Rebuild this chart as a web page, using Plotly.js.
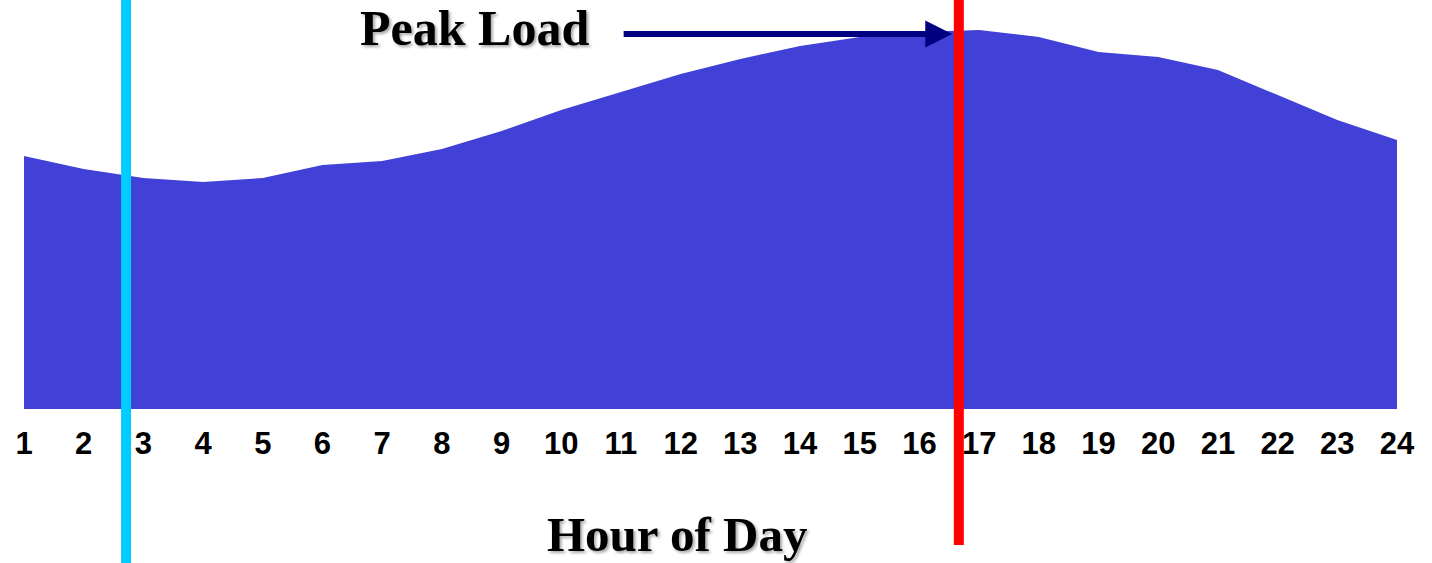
<!DOCTYPE html>
<html>
<head>
<meta charset="utf-8">
<script src="https://cdn.plot.ly/plotly-3.0.1.min.js"></script>
<style>html,body{margin:0;padding:0;background:#fff;}#chart{width:1432px;height:563px;}</style>
</head>
<body>
<div id="chart"></div>
<script>
// Hours of the day
const hours = [1,2,3,4,5,6,7,8,9,10,11,12,13,14,15,16,17,18,19,20,21,22,23,24];
// Relative load (arbitrary units)
const load = [253,240,231,227,231,244,248,260,278,299,317,335,350,363,372,377,379,372,357,352,339,314,289,269];
const tickLabels = hours.map(String);
// Marker hours for vertical lines
const minLoadMarker = 2.71;
const peakLoadMarker = 16.66;
const arrowStartHour = 11.02;
const arrowLevel = 375;

const trace = {
  x: hours, y: load, type: 'scatter', mode: 'lines',
  fill: 'tozeroy', fillcolor: '#4141D7',
  line: {width: 0, color: '#4141D7', shape: 'linear'},
  hoverinfo: 'skip'
};

const layout = {
  width: 1432, height: 563,
  margin: {l: 24, r: 35, t: 0, b: 154},
  paper_bgcolor: '#fff', plot_bgcolor: '#fff',
  showlegend: false,
  xaxis: {
    range: [1, 24], tickvals: hours, ticktext: tickLabels,
    showgrid: false, zeroline: false, showline: false,
    ticks: 'outside', ticklen: 7, tickcolor: 'rgba(0,0,0,0)',
    tickfont: {family: 'Liberation Sans, Arial, sans-serif', size: 31, color: '#000', weight: 'bold'}
  },
  yaxis: {range: [0, 409], visible: false, showgrid: false, zeroline: false},
  shapes: [
    {type: 'line', xref: 'x', yref: 'paper', x0: minLoadMarker, x1: minLoadMarker, y0: -154/409, y1: 1.01,
     line: {color: '#00CCFF', width: 10}},
    {type: 'line', xref: 'x', yref: 'paper', x0: peakLoadMarker, x1: peakLoadMarker, y0: -136/409, y1: 1.01,
     line: {color: '#FF0000', width: 10}}
  ],
  annotations: [
    {x: 16.55, y: arrowLevel, xref: 'x', yref: 'y', axref: 'x', ayref: 'y', ax: arrowStartHour, ay: arrowLevel,
     showarrow: true, arrowhead: 2, arrowsize: 0.9, arrowwidth: 6, arrowcolor: '#000080', text: ''},
    {x: 474, y: 28, xref: 'paper', yref: 'paper', text: '<b>Peak Load</b>', showarrow: false,
     xanchor: 'center', yanchor: 'middle',
     font: {family: 'Liberation Serif, Times New Roman, serif', size: 50, color: '#000', shadow: '2px 2px 3px rgba(0,0,0,0.35)'}},
    {x: 677, y: 534, xref: 'paper', yref: 'paper', text: '<b>Hour of Day</b>', showarrow: false,
     xanchor: 'center', yanchor: 'middle',
     font: {family: 'Liberation Serif, Times New Roman, serif', size: 49, color: '#000', shadow: '2px 2px 3px rgba(0,0,0,0.35)'}}
  ]
};
// convert pixel-placed text annotations to paper coords
const plotW = 1432 - 24 - 35, plotH = 563 - 154;
layout.annotations[1].x = (474 - 24) / plotW; layout.annotations[1].y = (409 - 28) / plotH;
layout.annotations[2].x = (677 - 24) / plotW; layout.annotations[2].y = (409 - 534) / plotH;

Plotly.newPlot('chart', [trace], layout, {displayModeBar: false, staticPlot: true});
</script>
</body>
</html>
